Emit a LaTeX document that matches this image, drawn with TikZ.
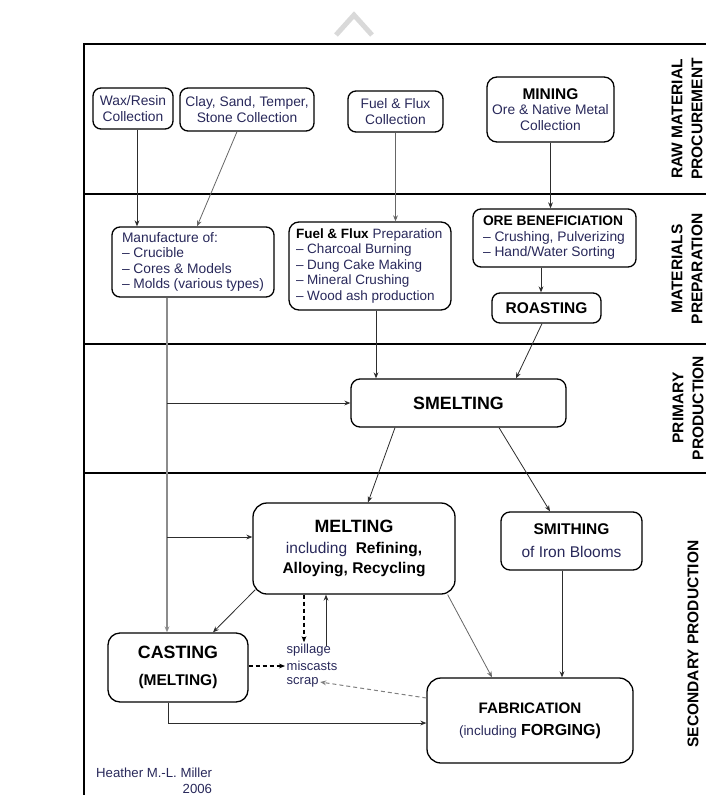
\documentclass[tikz,border=0pt]{standalone}
\usepackage{fontspec}
\setmainfont{Liberation Sans}
\usetikzlibrary{arrows.meta,calc}
\definecolor{txt}{RGB}{40,40,90}
\definecolor{lnk}{RGB}{45,45,45}
\definecolor{gln}{RGB}{140,140,140}
\newcommand\fsz[2]{\fontsize{#1}{#2}\selectfont}
\begin{document}
\begin{tikzpicture}[x=1pt,y=-1pt,
  box/.style={draw=black, line width=1.3pt, rounded corners=8pt, inner sep=0pt, align=center, text=txt},
  lbox/.style={box, align=flush left},
  tip/.style={-{Stealth[length=6pt,width=4.8pt]}},
  arr/.style={draw=lnk, line width=0.8pt, tip},
  garr/.style={draw=gln, line width=1.1pt, tip},
  darr/.style={draw=black, line width=1.2pt, dash pattern=on 4pt off 3pt, tip},
  gdarr/.style={draw=gray, line width=1pt, dash pattern=on 4pt off 3pt, tip},
  frame/.style={draw=black, line width=2.4pt},
  sect/.style={rotate=90, font=\bfseries\fsz{15.5}{20}, align=center, text=black, inner sep=0pt},
  sm/.style={font=\fsz{13}{15}, text=txt, inner sep=1.5pt, anchor=west}
]
\useasboundingbox (0,0) rectangle (705,795);

% watermark chevron
\draw[gray!30, line width=5pt] (336,35) -- (354,15) -- (372,35);

% frame
\draw[frame] (84,44) -- (84,800);
\draw[frame] (83,44) -- (710,44);
\draw[frame] (84,194) -- (710,194);
\draw[frame] (84,344) -- (710,344);
\draw[frame] (84,473) -- (710,473);

% section labels
\node[sect] (s1) at (687,119) {RAW MATERIAL\\PROCUREMENT};
\node[sect] (s2) at (687,269) {MATERIALS\\PREPARATION};
\node[sect] (s3) at (688,408) {PRIMARY\\PRODUCTION};
\node[sect] (s4) at (693,644) {SECONDARY PRODUCTION};

% raw material boxes
\node[box, minimum width=80pt, minimum height=41pt, font=\fsz{13.8}{15.5}] (wax) at (133,108.5) {Wax/Resin\\Collection};
\node[box, minimum width=134pt, minimum height=43pt, font=\fsz{13.8}{15.5}] (clay) at (247,109.5) {Clay, Sand, Temper,\\Stone Collection};
\node[box, minimum width=95pt, minimum height=41pt, font=\fsz{13.8}{15.5}] (fuelc) at (395.5,111.5) {Fuel \& Flux\\Collection};
\node[box, rounded corners=10pt, minimum width=127pt, minimum height=65pt, font=\fsz{13.8}{15.5}] (mining) at (550.5,109.5) {{\fsz{15.5}{16.5}\bfseries\color{black}MINING}\\Ore \& Native Metal\\Collection};

% materials preparation
\node[lbox, text width=142pt, inner xsep=10pt, minimum height=70pt, font=\fsz{13.8}{15.3}] (manu) at (193,262) {Manufacture of:\\-- Crucible\\-- Cores \& Models\\-- Molds (various types)};
\node[lbox, rounded corners=10pt, text width=156pt, inner xsep=3pt, minimum height=88pt, font=\fsz{13.5}{15.5}] (fuelp) at (370,266) {\hspace*{4pt}{\bfseries\color{black}Fuel \& Flux} Preparation\\\hspace*{4pt}-- Charcoal Burning\\\hspace*{4pt}-- Dung Cake Making\\\hspace*{4pt}-- Mineral Crushing\\\hspace*{4pt}-- Wood ash production};
\node[lbox, text width=147pt, inner xsep=8pt, minimum height=58pt, font=\fsz{13.8}{15.5}] (ore) at (554.5,238) {\hspace*{2pt}{\bfseries\color{black}ORE BENEFICIATION}\\\hspace*{2pt}-- Crushing, Pulverizing\\\hspace*{2pt}-- Hand/Water Sorting};
\node[box, minimum width=109pt, minimum height=30pt, font=\fsz{15.5}{17}\bfseries, text=black] (roast) at (546.5,308) {ROASTING};

% primary production
\node[box, rounded corners=9pt, minimum width=215pt, minimum height=48pt, font=\fsz{17.8}{19}\bfseries, text=black] (smelt) at (458.5,403) {SMELTING};

% secondary production
\node[box, rounded corners=14pt, minimum width=202pt, minimum height=91pt, font=\fsz{15.5}{20.5}] (melt) at (354,548.5) {{\fsz{17.8}{20.5}\bfseries\color{black}MELTING}\\including\ \ {\bfseries\color{black}Refining,}\\{\bfseries\color{black}Alloying, Recycling}};
\node[box, rounded corners=9pt, minimum width=141pt, minimum height=58pt, font=\fsz{15.5}{23}] (smith) at (571.5,541) {{\bfseries\color{black}SMITHING}\\of Iron Blooms};
\node[box, rounded corners=12pt, minimum width=140pt, minimum height=69pt, font=\fsz{15.5}{27}\bfseries, text=black] (cast) at (178,667.5) {{\fsz{17.8}{27}CASTING}\\(MELTING)};
\node[box, rounded corners=14pt, minimum width=206pt, minimum height=85pt, font=\fsz{15.2}{22}] (fab) at (530,720.5) {{\bfseries\color{black}FABRICATION}\\{\fsz{13.5}{22}(including} {\fsz{16}{22}\bfseries\color{black}FORGING)}};

\node[sm] (sp1) at (285,650) {spillage};
\node[sm] (sp2) at (285,666) {miscasts};
\node[sm] (sp3) at (285,682) {scrap};

\node[anchor=north west, align=right, font=\fsz{13.2}{15.5}, text=txt, inner sep=0pt] (auth) at (96,768) {Heather M.-L. Miller\\2006};

% connectors: raw -> preparation
\coordinate (a1) at ($(wax.south)+(4,0)$);
\draw[arr] (a1) -- (a1 |- manu.north);
\draw[arr, draw=gray!80!black] ($(clay.south)+(-10,0)$) -- ($(manu.north)+(4,0)$);
\draw[arr, draw=gray!80!black] (fuelc.south) -- (fuelc.south |- fuelp.north);
\draw[arr] (mining.south) -- (mining.south |- ore.north);
\coordinate (a2) at ($(ore.south)+(-13.5,0)$);
\draw[arr] (a2) -- (a2 |- roast.north);

% manufacture line
\coordinate (a3) at ($(manu.south)+(-26,0)$);
\draw[garr] (a3) -- (a3 |- cast.north);
\draw[arr] (a3 |- smelt.west) -- (smelt.west);
\coordinate (a4) at ($(melt.west)+(0,-11.5)$);
\draw[arr] (a3 |- a4) -- (a4);

% to smelting
\coordinate (a5) at ($(fuelp.south)+(6,0)$);
\draw[arr] (a5) -- (a5 |- smelt.north);
\draw[arr] ($(roast.south)+(-4.5,0)$) -- ($(smelt.north)+(57.5,0)$);

% from smelting
\draw[arr] ($(smelt.south)+(-63.5,0)$) -- ($(melt.north)+(14,0)$);
\draw[arr] ($(smelt.south)+(40.5,0)$) -- ($(smith.north)+(-21.5,0)$);

% melting relations
\draw[arr] ($(melt.south west)+(3,-5)$) -- ($(cast.north)+(35,0)$);
\coordinate (a6) at ($(melt.south)+(-50,0)$);
\draw[darr] (a6) -- (a6 |- sp1.north);
\coordinate (a7) at ($(melt.south)+(-28,0)$);
\draw[arr] ($(a7 |- sp1.north)+(0,4)$) -- (a7);
\draw[darr] (cast.east |- sp2.west) -- (sp2.west);
\draw[gdarr] ($(fab.west)+(0,-22.5)$) -- (sp3.east);
\draw[arr, draw=gray!80!black] ($(melt.south east)+(-8,0)$) -- ($(fab.north)+(-38,0)$);
\coordinate (a10) at ($(smith.south)+(-9.5,0)$);
\draw[arr] (a10) -- (a10 |- fab.north);
\coordinate (a9) at ($(cast.south)+(-10,0)$);
\coordinate (a11) at ($(fab.west)+(0,2.5)$);
\draw[arr] (a9) |- (a11);
\end{tikzpicture}
\end{document}
